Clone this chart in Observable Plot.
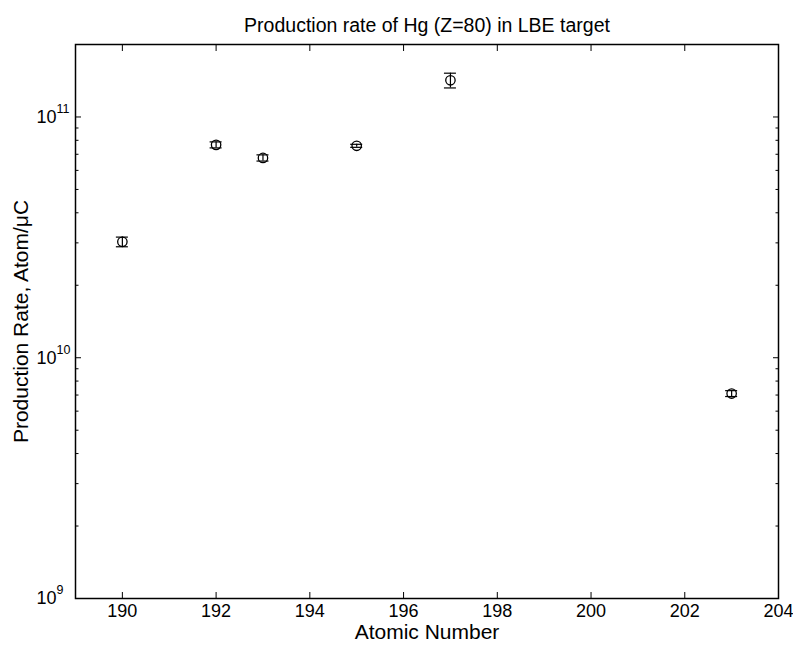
<!DOCTYPE html>
<html>
<head>
<meta charset="utf-8">
<script src="https://cdn.jsdelivr.net/npm/d3@7"></script>
<script src="https://cdn.jsdelivr.net/npm/@observablehq/plot@0.6"></script>
<style>
  html, body { margin: 0; padding: 0; background: #fff; }
  svg { font-family: "Liberation Sans", Arial, sans-serif; }
</style>
</head>
<body>
<div id="chart"></div>
<script>
const title = "Production rate of Hg (Z=80) in LBE target";
const xLabel = "Atomic Number";
const yLabel = "Production Rate, Atom/\u03bcC";
const isotopes = [190, 192, 193, 195, 197, 203];
const rates    = [3.03e10, 7.66e10, 6.76e10, 7.59e10, 1.42e11, 7.1e9];
const errors   = [0.14e10, 0.22e10, 0.2e10, 0.11e10, 0.10e11, 0.2e9];
const xTicks = [190, 192, 194, 196, 198, 200, 202, 204];
const yMajor = [1e9, 1e10, 1e11];
const yMinor = [2e9,3e9,4e9,5e9,6e9,7e9,8e9,9e9,2e10,3e10,4e10,5e10,6e10,7e10,8e10,9e10];

const data = isotopes.map((x, i) => ({x, y: rates[i], lo: rates[i] - errors[i], hi: rates[i] + errors[i]}));
const capHalf = 0.128;
const font = "'Liberation Sans', Arial, sans-serif";

const plot = Plot.plot({
  width: 793,
  height: 647,
  marginLeft: 75,
  marginRight: 15,
  marginTop: 44,
  marginBottom: 49,
  style: {fontFamily: font, color: "black", background: "white"},
  x: {domain: [189, 204]},
  y: {type: "log", domain: [1e9, 2e11]},
  marks: [
    Plot.axisX({anchor: "bottom", ticks: xTicks, tickSize: -6, tickFormat: () => "", label: null}),
    Plot.axisX({anchor: "top", ticks: xTicks, tickSize: -6, tickFormat: () => "", label: null}),
    Plot.axisY({anchor: "left", ticks: yMajor, tickSize: -6, tickFormat: () => "", label: null}),
    Plot.axisY({anchor: "left", ticks: yMinor, tickSize: -3.5, tickFormat: () => "", label: null}),
    Plot.axisY({anchor: "right", ticks: yMajor, tickSize: -6, tickFormat: () => "", label: null}),
    Plot.axisY({anchor: "right", ticks: yMinor, tickSize: -3.5, tickFormat: () => "", label: null}),
    Plot.frame({stroke: "black", strokeWidth: 1.5}),
    Plot.text(xTicks, {x: d => d, frameAnchor: "bottom", dy: 18, fontSize: 18, fill: "black", text: d => String(d)}),
    Plot.text(yMajor, {y: d => d, frameAnchor: "left", dx: -39, textAnchor: "start", fontSize: 18, fill: "black",
      text: d => "10^" + Math.round(Math.log10(d))}),
    Plot.ruleX(data, {x: "x", y1: "lo", y2: "hi", stroke: "black", strokeWidth: 1.2}),
    Plot.ruleY(data, {y: "lo", x1: d => d.x - capHalf, x2: d => d.x + capHalf, stroke: "black", strokeWidth: 1.2}),
    Plot.ruleY(data, {y: "hi", x1: d => d.x - capHalf, x2: d => d.x + capHalf, stroke: "black", strokeWidth: 1.2}),
    Plot.dot(data, {x: "x", y: "y", r: 4.7, stroke: "black", fill: "none", strokeWidth: 1.3}),
    Plot.text([title], {frameAnchor: "top", dy: -26, fontSize: 19.5, fill: "black"}),
    Plot.text([xLabel], {frameAnchor: "bottom", dy: 40, fontSize: 21, fill: "black"}),
    Plot.text([yLabel], {frameAnchor: "left", dx: -54, rotate: -90, textAnchor: "middle", fontSize: 21, fill: "black"})
  ]
});

d3.select(plot).selectAll("text").each(function() {
  const t = d3.select(this);
  const s = t.text();
  const m = /^10\^(\d+)$/.exec(s);
  if (m) {
    t.text("");
    t.append("tspan").text("10");
    t.append("tspan").attr("dy", "-10").attr("font-size", "12.5px").text(m[1]);
  }
});

document.getElementById("chart").appendChild(plot);
</script>
</body>
</html>
